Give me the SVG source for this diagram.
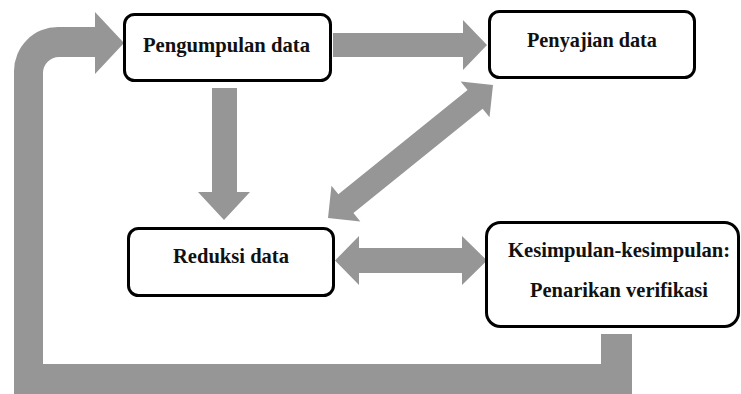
<svg xmlns="http://www.w3.org/2000/svg" width="741" height="394" viewBox="0 0 741 394">
<style>
.box{fill:#fff;stroke:#000;stroke-width:3}
.arr{fill:#969696;stroke:none}
.lbl{font-family:"Liberation Serif","Times New Roman","DejaVu Serif",serif;font-weight:bold;font-size:21.5px;fill:#111;text-anchor:middle}
</style>
<rect width="741" height="394" fill="#fff"/>
<g id="connectors">
<path class="arr" d="M601,334 L632,334 L632,394 L14,394 L14,71 A44,44 0 0 1 58,27 L95,27 L95,12 L124,43 L95,74 L95,57 L59,57 A16,16 0 0 0 43,73 L43,364 L601,364 Z"/>
<polygon class="arr" points="333,33 463,33 463,20 487,45 463,70 463,57 333,57"/>
<polygon class="arr" points="212,88 237,88 237,192 250,192 224,220 198,192 212,192"/>
<polygon class="arr" transform="translate(410.5,151.5) rotate(-38.9)" points="-106,0 -83,-23 -83,-12 83,-12 83,-23 106,0 83,23 83,12 -83,12 -83,23"/>
<polygon class="arr" points="335,260.5 359,236 359,248 462,248 462,236 487,260.5 462,285 462,273 359,273 359,285"/>
</g>
<g id="pengumpulan">
<rect class="box" x="124.5" y="14.5" width="206" height="66" rx="10"/>
<text class="lbl" x="226.5" y="52" textLength="167" lengthAdjust="spacingAndGlyphs">Pengumpulan data</text>
</g>
<g id="penyajian">
<rect class="box" x="489.5" y="11.5" width="205" height="66" rx="10"/>
<text class="lbl" x="592" y="47" textLength="130" lengthAdjust="spacingAndGlyphs">Penyajian data</text>
</g>
<g id="reduksi">
<rect class="box" x="128.5" y="228.5" width="205" height="67" rx="10"/>
<text class="lbl" x="231" y="263" textLength="116" lengthAdjust="spacingAndGlyphs">Reduksi data</text>
</g>
<g id="kesimpulan">
<rect class="box" x="486.5" y="222.5" width="252" height="104" rx="14"/>
<text class="lbl" x="619" y="257" textLength="222" lengthAdjust="spacingAndGlyphs">Kesimpulan-kesimpulan:</text>
<text class="lbl" x="619" y="297" textLength="178" lengthAdjust="spacingAndGlyphs">Penarikan verifikasi</text>
</g>
</svg>
